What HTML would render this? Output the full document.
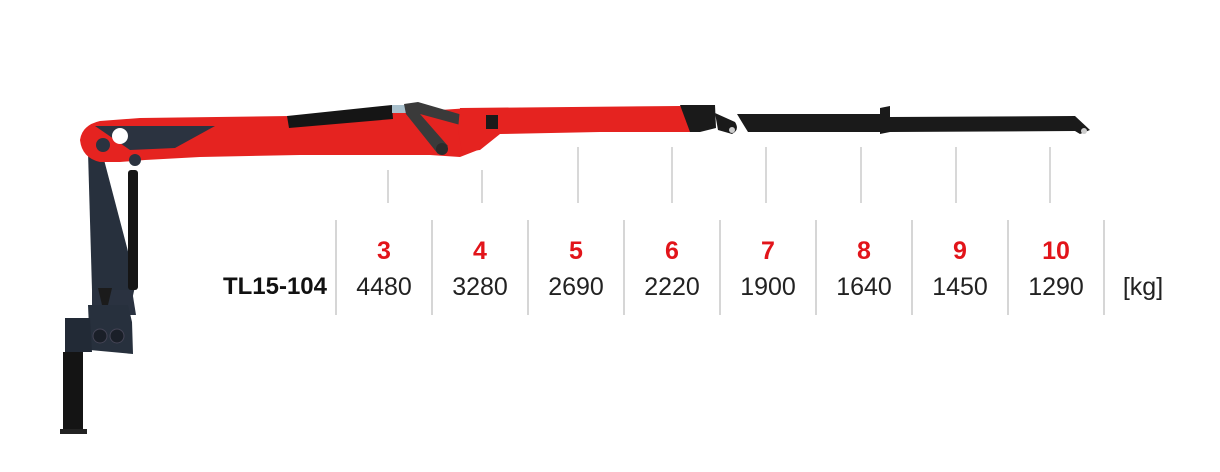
<!DOCTYPE html>
<html><head><style>
html,body{margin:0;padding:0;background:#fff;}
body{width:1220px;height:472px;position:relative;overflow:hidden;font-family:"Liberation Sans",sans-serif;}
</style></head><body>
<svg width="1220" height="472" viewBox="0 0 1220 472" xmlns="http://www.w3.org/2000/svg" style="position:absolute;left:0;top:0">
<g stroke="#c4c4c4" stroke-width="1.3">
<line x1="388" y1="170" x2="388" y2="203"/>
<line x1="482" y1="170" x2="482" y2="203"/>
<line x1="578" y1="147" x2="578" y2="203"/>
<line x1="672" y1="147" x2="672" y2="203"/>
<line x1="766" y1="147" x2="766" y2="203"/>
<line x1="861" y1="147" x2="861" y2="203"/>
<line x1="956" y1="147" x2="956" y2="203"/>
<line x1="1050" y1="147" x2="1050" y2="203"/>
</g>
<g stroke="#c8c8c8" stroke-width="1.5">
<line x1="336" y1="220" x2="336" y2="315"/>
<line x1="432" y1="220" x2="432" y2="315"/>
<line x1="528" y1="220" x2="528" y2="315"/>
<line x1="624" y1="220" x2="624" y2="315"/>
<line x1="720" y1="220" x2="720" y2="315"/>
<line x1="816" y1="220" x2="816" y2="315"/>
<line x1="912" y1="220" x2="912" y2="315"/>
<line x1="1008" y1="220" x2="1008" y2="315"/>
<line x1="1104" y1="220" x2="1104" y2="315"/>
</g>
<!-- column -->
<path d="M88 152 L102 152 L136 282 L132 300 L96 300 L92 290 Z" fill="#27303d"/>
<rect x="128" y="170" width="10" height="120" rx="3" fill="#151515"/>
<path d="M92 290 L132 290 L136 315 L92 315 Z" fill="#2a3240"/>
<path d="M98 288 L112 288 L108 305 L102 305 Z" fill="#1b1b1b"/>
<path d="M88 305 L128 305 L132 322 L133 354 L90 350 Z" fill="#27303d"/>
<path d="M65 318 L90 318 L92 352 L65 352 Z" fill="#222a36"/>
<circle cx="100" cy="336" r="7" fill="#1a1f28" stroke="#445" />
<circle cx="117" cy="336" r="7" fill="#1a1f28" stroke="#445" />
<rect x="63" y="352" width="20" height="80" fill="#141414"/>
<rect x="60" y="429" width="27" height="5" fill="#222"/>
<!-- main boom red -->
<path d="M80 140 Q82 125 100 121 L140 118 L290 116 L390 112 L440 110 L470 108 L478 118 L478 150 L460 157 L430 155 L300 155 L200 157 L145 160 L120 162 L100 162 Q82 158 80 140 Z" fill="#e52320"/>
<path d="M95 126 L215 126 L175 148 L130 150 Z" fill="#2b3340"/>
<circle cx="103" cy="145" r="7" fill="#2b3340"/>
<circle cx="135" cy="160" r="6" fill="#2b3340"/>
<circle cx="120" cy="136" r="8" fill="#fff"/>
<!-- boom cylinder -->
<path d="M287 116 L392 105 L393 119 L289 128 Z" fill="#151515"/>
<rect x="392" y="105" width="14" height="8" fill="#a9c0cc"/>
<!-- linkage -->
<path d="M404 104 L418 102 L466 116 L464 126 L420 114 L448 146 L438 154 L406 114 Z" fill="#3a3a3a"/>
<circle cx="442" cy="149" r="6" fill="#2b2b2b"/>
<!-- second red section -->
<path d="M460 108 L680 106 L690 110 L692 132 L600 132 L500 134 L480 150 L462 152 L458 130 Z" fill="#e52320"/>
<rect x="486" y="115" width="12" height="14" fill="#1a1a1a"/>
<path d="M680 105 L715 105 L716 128 L700 132 L690 132 Z" fill="#1a1a1a"/>
<path d="M715 113 L735 122 Q740 130 732 134 L718 130 Z" fill="#1a1a1a"/>
<circle cx="732" cy="130" r="3" fill="#ccc"/>
<!-- black extension -->
<path d="M737 114 L880 114 L880 108 L890 106 L890 117 L1075 116 L1090 130 L1080 134 L1075 131 L890 132 L880 134 L880 132 L748 132 Q743 124 737 114 Z" fill="#1a1a1a"/>
<circle cx="1084" cy="131" r="3" fill="#ccc"/>
</svg>
<div style="position:absolute;left:0;top:0;width:1220px;height:472px;">
<div style="position:absolute;left:180px;width:147px;top:273px;text-align:right;font-weight:bold;font-size:24px;color:#111">TL15-104</div>
<div style="position:absolute;top:237px;left:336px;display:flex;color:#e2141a;font-weight:bold;font-size:25px">
<div style="width:96px;text-align:center">3</div><div style="width:96px;text-align:center">4</div><div style="width:96px;text-align:center">5</div><div style="width:96px;text-align:center">6</div><div style="width:96px;text-align:center">7</div><div style="width:96px;text-align:center">8</div><div style="width:96px;text-align:center">9</div><div style="width:96px;text-align:center">10</div>
</div>
<div style="position:absolute;top:273px;left:336px;display:flex;color:#222;font-size:25px">
<div style="width:96px;text-align:center">4480</div><div style="width:96px;text-align:center">3280</div><div style="width:96px;text-align:center">2690</div><div style="width:96px;text-align:center">2220</div><div style="width:96px;text-align:center">1900</div><div style="width:96px;text-align:center">1640</div><div style="width:96px;text-align:center">1450</div><div style="width:96px;text-align:center">1290</div><div style="width:78px;text-align:center">[kg]</div>
</div>
</div>
</body></html>
